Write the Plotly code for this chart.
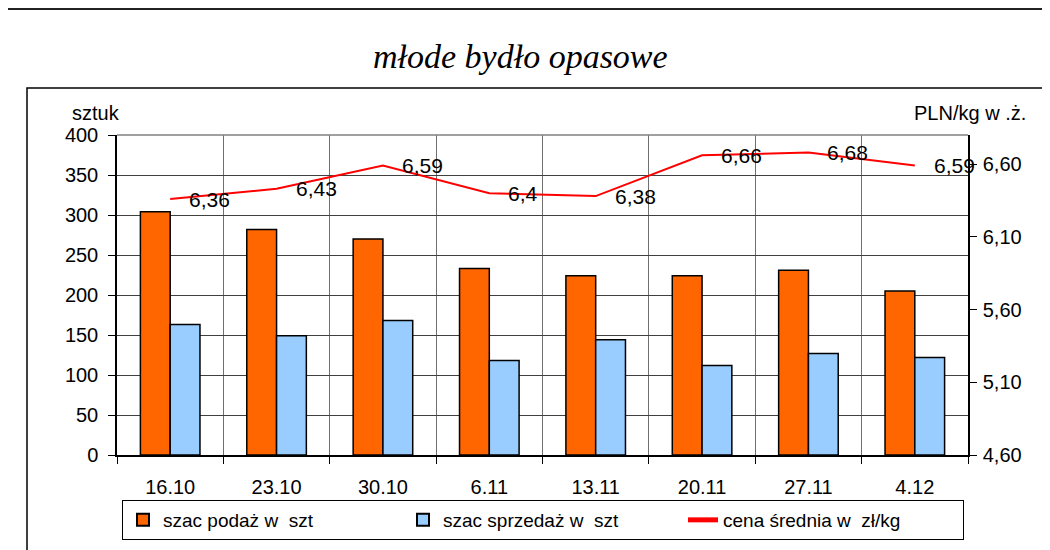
import plotly.graph_objects as go

# ---- data ----
categories = ["16.10", "23.10", "30.10", "6.11", "13.11", "20.11", "27.11", "4.12"]
podaz = [304, 282, 270, 233, 224, 224, 231, 205]
sprzedaz = [163, 149, 168, 118, 144, 112, 127, 122]
cena = [6.36, 6.43, 6.59, 6.4, 6.38, 6.66, 6.68, 6.59]
left_ticks = [0, 50, 100, 150, 200, 250, 300, 350, 400]
right_ticks = [4.60, 5.10, 5.60, 6.10, 6.60]

title_text = "młode bydło opasowe"
left_title = "sztuk"
right_title = "PLN/kg w .ż."
names = ["szac podaż w  szt", "szac sprzedaż w  szt", "cena średnia w  zł/kg"]

# ---- layout geometry (pixels, page coordinates; page body has an 8px margin) ----
OFF = 8
W, H = 1050, 550
L, R, T, B = 117 - OFF, 968 - OFF, 135 - OFF, 455 - OFF


def px(x):
    return (x - OFF - L) / (R - L)


def py(y):
    return (B - (y - OFF)) / (B - T)


FONT = "Liberation Sans, Arial, sans-serif"

fig = go.Figure()
fig.add_trace(go.Bar(x=categories, y=podaz, name=names[0],
                     marker=dict(color="#FF6600", line=dict(color="#000000", width=1.5))))
fig.add_trace(go.Bar(x=categories, y=sprzedaz, name=names[1],
                     marker=dict(color="#99CCFF", line=dict(color="#000000", width=1.5))))
fig.add_trace(go.Scatter(x=categories, y=cena, name=names[2], yaxis="y2", mode="lines",
                         line=dict(color="#FF0000", width=2)))

annotations = []
for i, v in enumerate(cena):
    annotations.append(dict(x=i, y=v, xref="x", yref="y2", text=str(v).replace(".", ","),
                            showarrow=False, xanchor="left", yanchor="middle", xshift=17,
                            font=dict(family=FONT, size=21, color="#000")))
annotations.append(dict(x=px(96), y=py(113), xref="paper", yref="paper", text=left_title,
                        showarrow=False, xanchor="center", yanchor="middle",
                        font=dict(family=FONT, size=20, color="#000")))
annotations.append(dict(x=px(970), y=py(113), xref="paper", yref="paper", text=right_title,
                        showarrow=False, xanchor="center", yanchor="middle",
                        font=dict(family=FONT, size=20, color="#000")))
annotations.append(dict(x=px(520), y=py(56), xref="paper", yref="paper", text="<i>" + title_text + "</i>",
                        showarrow=False, xanchor="center", yanchor="middle",
                        font=dict(family="Liberation Serif, Times New Roman, serif", size=34, color="#000")))

shapes = [
    dict(type="rect", xref="paper", yref="paper", x0=px(7), x1=px(1062), y0=py(565), y1=py(9),
         line=dict(color="#222222", width=2)),
    dict(type="rect", xref="paper", yref="paper", x0=px(27), x1=px(1048), y0=py(565), y1=py(88),
         line=dict(color="#000000", width=1.5)),
    dict(type="line", xref="paper", yref="paper", x0=0, x1=1, y0=1, y1=1,
         line=dict(color="#808080", width=1.5)),
]

fig.update_layout(
    width=W, height=H,
    margin=dict(l=L, r=W - R, t=T, b=H - B, pad=0),
    paper_bgcolor="white", plot_bgcolor="white",
    font=dict(family=FONT, size=20, color="#000"),
    barmode="group", bargap=0.44, bargroupgap=0,
    showlegend=True,
    legend=dict(orientation="h", x=px(543), xanchor="center", y=py(500), yanchor="top",
                bordercolor="#000", borderwidth=1, bgcolor="white",
                font=dict(family=FONT, size=19, color="#000"),
                entrywidth=235, entrywidthmode="pixels", traceorder="normal",
                tracegroupgap=0, itemsizing="constant"),
    xaxis=dict(type="category", tickson="boundaries", showgrid=True, gridcolor="#707070", gridwidth=1,
               ticks="outside", ticklen=7, tickcolor="#000", showline=True, linecolor="#000", linewidth=1.5,
               ticklabelstandoff=13, tickfont=dict(size=20), range=[-0.5, 7.5]),
    yaxis=dict(range=[0, 400], tickvals=left_ticks, showgrid=True, gridcolor="#404040", gridwidth=1,
               ticks="outside", ticklen=7, tickcolor="#000", showline=True, linecolor="#000", linewidth=1.5,
               ticklabelstandoff=6, tickfont=dict(size=20), zeroline=False),
    yaxis2=dict(range=[4.6, 6.8], overlaying="y", side="right", tickvals=right_ticks,
                ticktext=[f"{v:.2f}".replace(".", ",") for v in right_ticks],
                showgrid=False, ticks="outside", ticklen=7, tickcolor="#000", showline=True,
                linecolor="#000", linewidth=1.5, ticklabelstandoff=2, tickfont=dict(size=20), zeroline=False),
    annotations=annotations,
    shapes=shapes,
)

fig.write_html("out.html")
